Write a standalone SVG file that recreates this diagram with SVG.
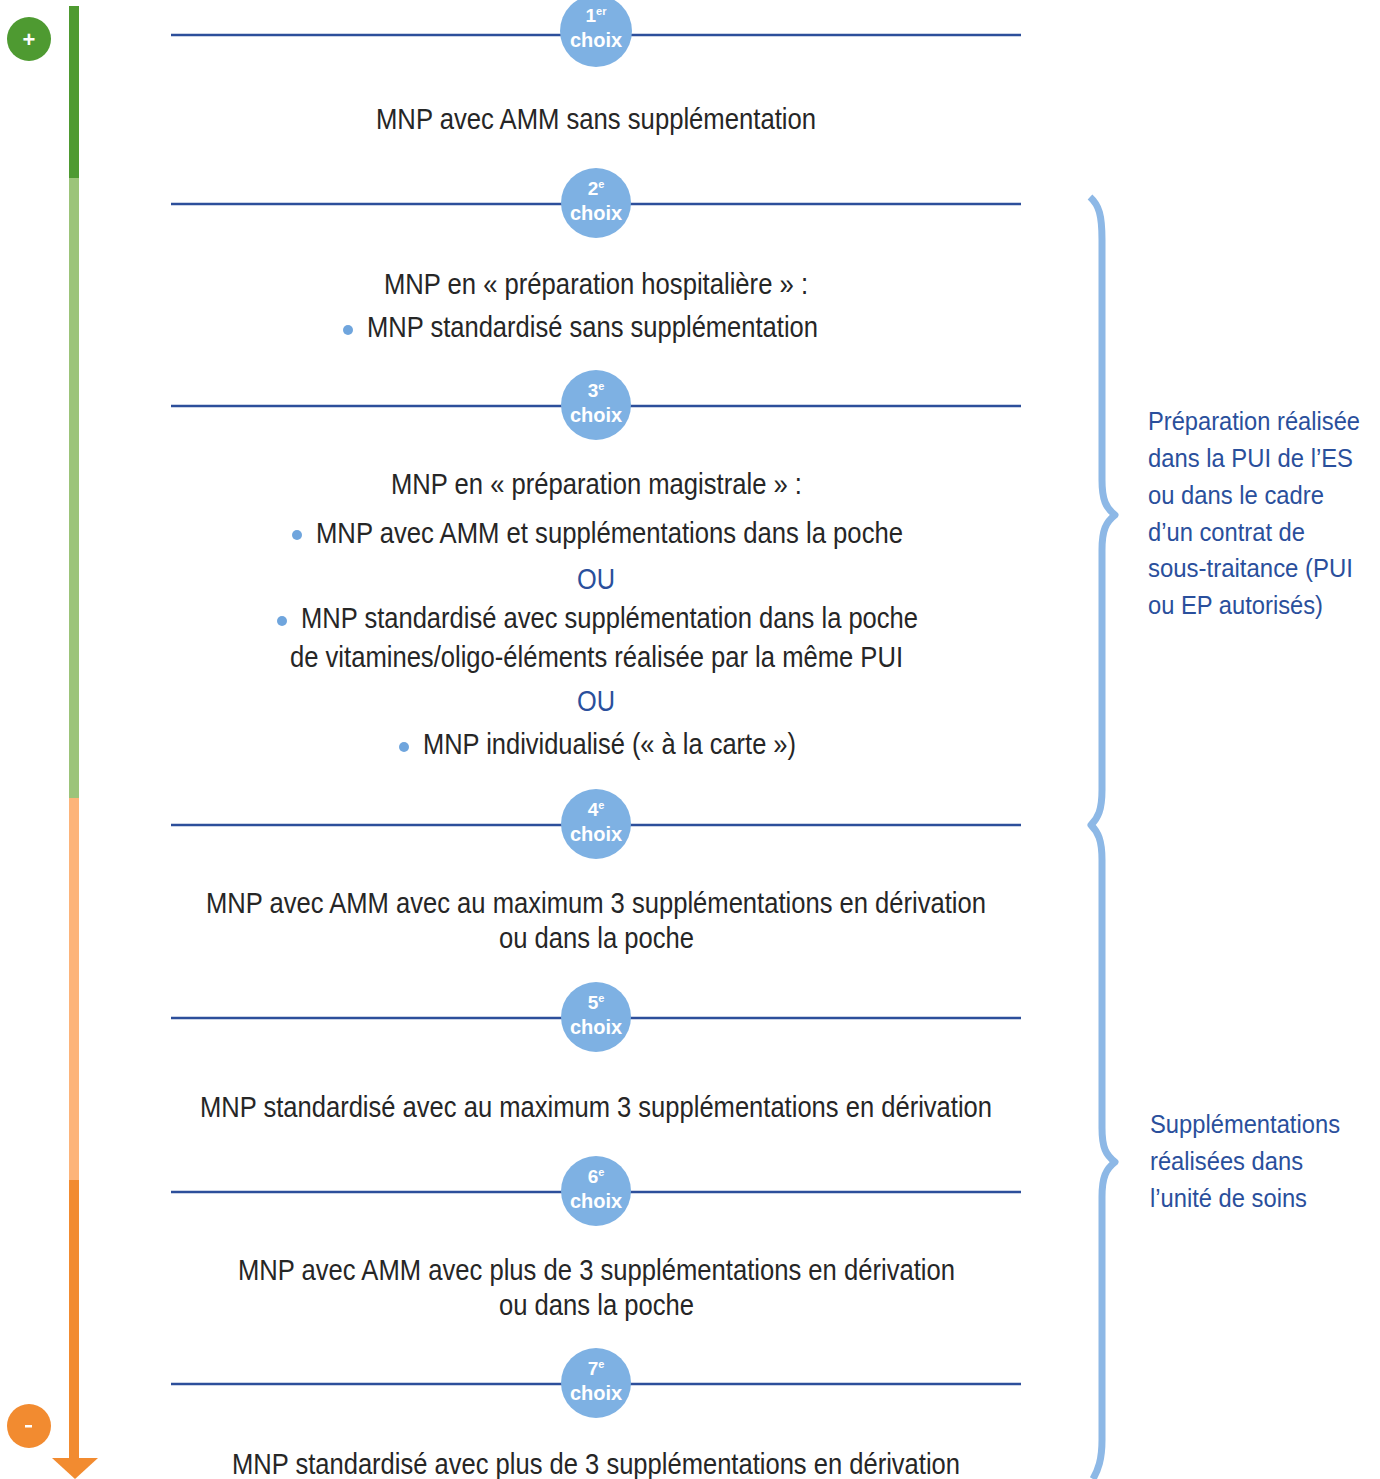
<svg xmlns="http://www.w3.org/2000/svg" width="1380" height="1479" viewBox="0 0 1380 1479">
<style>
.t{font-family:"Liberation Sans",Arial,sans-serif;font-size:29px;fill:#262626}
.ou{font-family:"Liberation Sans",Arial,sans-serif;font-size:29px;fill:#2a4f9c}
.side{font-family:"Liberation Sans",Arial,sans-serif;font-size:25px;fill:#2a4f9c}
.n{font-family:"Liberation Sans",Arial,sans-serif;font-weight:bold;font-size:19px;fill:#fff}
.s{font-family:"Liberation Sans",Arial,sans-serif;font-weight:bold;font-size:11px;fill:#fff}
.c{font-family:"Liberation Sans",Arial,sans-serif;font-weight:bold;font-size:20px;fill:#fff}
.hl{stroke:#2d4f9b;stroke-width:2.5}
.cir{fill:#7eb1e3}
.bul{fill:#6fa5dd}
</style>
<rect width="1380" height="1479" fill="#fff"/>
<g id="scale">
<rect x="69" y="6" width="10" height="173" fill="#4e9a31"/>
<rect x="69" y="178" width="10" height="621" fill="#9cc47a"/>
<rect x="69" y="798" width="10" height="383" fill="#fdb47a"/>
<rect x="69" y="1180" width="10" height="280" fill="#f28b30"/>
<polygon points="52,1458 98,1458 75,1479" fill="#f28b30"/>
<circle cx="29" cy="39" r="22" fill="#4e9a31"/>
<text x="29" y="47" text-anchor="middle" font-family="Liberation Sans,Arial,sans-serif" font-weight="bold" font-size="22" fill="#fff">+</text>
<circle cx="29" cy="1426" r="22" fill="#f28b30"/>
<rect x="25" y="1425" width="7" height="2.5" fill="#fff"/>
</g>
<g id="connectors">
<line class="hl" x1="171" y1="35" x2="1021" y2="35"/>
<line class="hl" x1="171" y1="204" x2="1021" y2="204"/>
<line class="hl" x1="171" y1="406" x2="1021" y2="406"/>
<line class="hl" x1="171" y1="825" x2="1021" y2="825"/>
<line class="hl" x1="171" y1="1018" x2="1021" y2="1018"/>
<line class="hl" x1="171" y1="1192" x2="1021" y2="1192"/>
<line class="hl" x1="171" y1="1384" x2="1021" y2="1384"/>
</g>
<g id="choice1"><circle class="cir" cx="596" cy="31" r="36"/><text x="596" y="22" text-anchor="middle"><tspan class="n">1</tspan><tspan class="s" dy="-7">er</tspan></text><text class="c" x="596" y="47" text-anchor="middle">choix</text></g>
<g id="choice2"><circle class="cir" cx="596" cy="203" r="35"/><text x="596" y="195" text-anchor="middle"><tspan class="n">2</tspan><tspan class="s" dy="-7">e</tspan></text><text class="c" x="596" y="220" text-anchor="middle">choix</text></g>
<g id="choice3"><circle class="cir" cx="596" cy="405" r="35"/><text x="596" y="397" text-anchor="middle"><tspan class="n">3</tspan><tspan class="s" dy="-7">e</tspan></text><text class="c" x="596" y="422" text-anchor="middle">choix</text></g>
<g id="choice4"><circle class="cir" cx="596" cy="824" r="35"/><text x="596" y="816" text-anchor="middle"><tspan class="n">4</tspan><tspan class="s" dy="-7">e</tspan></text><text class="c" x="596" y="841" text-anchor="middle">choix</text></g>
<g id="choice5"><circle class="cir" cx="596" cy="1017" r="35"/><text x="596" y="1009" text-anchor="middle"><tspan class="n">5</tspan><tspan class="s" dy="-7">e</tspan></text><text class="c" x="596" y="1034" text-anchor="middle">choix</text></g>
<g id="choice6"><circle class="cir" cx="596" cy="1191" r="35"/><text x="596" y="1183" text-anchor="middle"><tspan class="n">6</tspan><tspan class="s" dy="-7">e</tspan></text><text class="c" x="596" y="1208" text-anchor="middle">choix</text></g>
<g id="choice7"><circle class="cir" cx="596" cy="1383" r="35"/><text x="596" y="1375" text-anchor="middle"><tspan class="n">7</tspan><tspan class="s" dy="-7">e</tspan></text><text class="c" x="596" y="1400" text-anchor="middle">choix</text></g>
<g id="text1"><text class="t" x="376" y="129" textLength="440" lengthAdjust="spacingAndGlyphs">MNP avec AMM sans supplémentation</text></g>
<g id="text2">
<text class="t" x="384" y="294" textLength="424" lengthAdjust="spacingAndGlyphs">MNP en « préparation hospitalière » :</text>
<circle class="bul" cx="348" cy="330" r="5"/>
<text class="t" x="367" y="337" textLength="451" lengthAdjust="spacingAndGlyphs">MNP standardisé sans supplémentation</text>
</g>
<g id="text3">
<text class="t" x="391" y="494" textLength="411" lengthAdjust="spacingAndGlyphs">MNP en « préparation magistrale » :</text>
<circle class="bul" cx="297" cy="535" r="5"/>
<text class="t" x="316" y="543" textLength="587" lengthAdjust="spacingAndGlyphs">MNP avec AMM et supplémentations dans la poche</text>
<text class="ou" x="577" y="589" textLength="38" lengthAdjust="spacingAndGlyphs">OU</text>
<circle class="bul" cx="282" cy="621" r="5"/>
<text class="t" x="301" y="628" textLength="617" lengthAdjust="spacingAndGlyphs">MNP standardisé avec supplémentation dans la poche</text>
<text class="t" x="290" y="667" textLength="613" lengthAdjust="spacingAndGlyphs">de vitamines/oligo-éléments réalisée par la même PUI</text>
<text class="ou" x="577" y="711" textLength="38" lengthAdjust="spacingAndGlyphs">OU</text>
<circle class="bul" cx="404" cy="747" r="5"/>
<text class="t" x="423" y="754" textLength="373" lengthAdjust="spacingAndGlyphs">MNP individualisé (« à la carte »)</text>
</g>
<g id="text4">
<text class="t" x="206" y="913" textLength="780" lengthAdjust="spacingAndGlyphs">MNP avec AMM avec au maximum 3 supplémentations en dérivation</text>
<text class="t" x="499" y="948" textLength="195" lengthAdjust="spacingAndGlyphs">ou dans la poche</text>
</g>
<g id="text5"><text class="t" x="200" y="1117" textLength="792" lengthAdjust="spacingAndGlyphs">MNP standardisé avec au maximum 3 supplémentations en dérivation</text></g>
<g id="text6">
<text class="t" x="238" y="1280" textLength="717" lengthAdjust="spacingAndGlyphs">MNP avec AMM avec plus de 3 supplémentations en dérivation</text>
<text class="t" x="499" y="1315" textLength="195" lengthAdjust="spacingAndGlyphs">ou dans la poche</text>
</g>
<g id="text7"><text class="t" x="232" y="1474" textLength="728" lengthAdjust="spacingAndGlyphs">MNP standardisé avec plus de 3 supplémentations en dérivation</text></g>
<g id="braces" fill="none" stroke="#8db8e6" stroke-width="7" stroke-linejoin="round">
<path d="M1090,197 C1099,205 1102,215 1102,240 L1102,480 C1102,500 1106,508 1115,515 C1106,522 1102,530 1102,550 L1102,790 C1102,810 1098,818 1091,825 C1098,832 1102,840 1102,860 L1102,1128 C1102,1148 1106,1155 1115,1162 C1106,1169 1102,1177 1102,1197 L1102,1440 C1102,1460 1098,1470 1093,1479"/>
</g>
<g id="labels">
<text class="side" x="1148" y="430" textLength="212" lengthAdjust="spacingAndGlyphs">Préparation réalisée</text>
<text class="side" x="1148" y="467" textLength="205" lengthAdjust="spacingAndGlyphs">dans la PUI de l’ES</text>
<text class="side" x="1148" y="504" textLength="176" lengthAdjust="spacingAndGlyphs">ou dans le cadre</text>
<text class="side" x="1148" y="541" textLength="157" lengthAdjust="spacingAndGlyphs">d’un contrat de</text>
<text class="side" x="1148" y="577" textLength="205" lengthAdjust="spacingAndGlyphs">sous-traitance (PUI</text>
<text class="side" x="1148" y="614" textLength="175" lengthAdjust="spacingAndGlyphs">ou EP autorisés)</text>
<text class="side" x="1150" y="1133" textLength="190" lengthAdjust="spacingAndGlyphs">Supplémentations</text>
<text class="side" x="1150" y="1170" textLength="153" lengthAdjust="spacingAndGlyphs">réalisées dans</text>
<text class="side" x="1150" y="1207" textLength="157" lengthAdjust="spacingAndGlyphs">l’unité de soins</text>
</g>
</svg>
